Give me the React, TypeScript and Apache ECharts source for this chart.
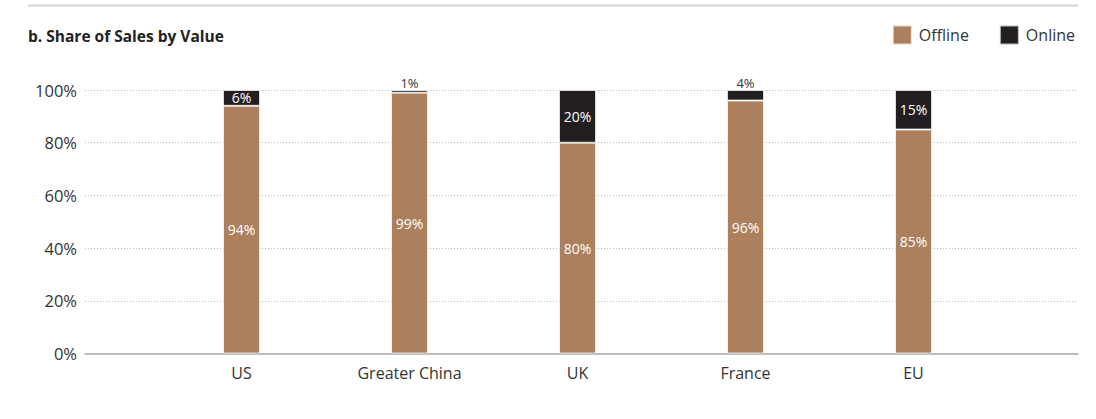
import React, { useEffect, useRef } from "react";
import * as echarts from "echarts";

const categories = ["US", "Greater China", "UK", "France", "EU"];
const offline = [94, 99, 80, 96, 85];
const online = [6, 1, 20, 4, 15];
const yTicks = [0, 20, 40, 60, 80, 100];

const FONT = "'Open Sans', 'Noto Sans', sans-serif";
const OFFLINE_COLOR = "#AD805D";
const ONLINE_COLOR = "#231F20";

export default function App() {
  const ref = useRef<HTMLDivElement>(null);
  useEffect(() => {
    const chart = echarts.init(ref.current!, undefined, { renderer: "svg" });
    const top = 90;
    const height = 263.5;
    chart.setOption({
      animation: false,
      textStyle: { fontFamily: FONT },
      graphic: [
        {
          type: "line",
          shape: { x1: 28, y1: 5.5, x2: 1078, y2: 5.5 },
          style: { stroke: "#d4d4d4", lineWidth: 2 },
        },
        {
          type: "text",
          left: 28,
          top: 27.5,
          style: {
            text: "b. Share of Sales by Value",
            font: `bold 15.5px ${FONT}`,
            fill: "#222",
          },
        },
      ],
      legend: {
        right: 21,
        top: 24.5,
        padding: 0,
        icon: "rect",
        itemWidth: 19,
        itemHeight: 19,
        itemGap: 30,
        textStyle: { fontSize: 16, color: "#333", fontFamily: FONT, padding: [0, 0, 0, 2] },
        data: ["Offline", "Online"],
      },
      grid: [
        { left: 85, top, width: 993, height },
        { left: 157.5, top, width: 840, height },
      ],
      xAxis: [
        {
          gridIndex: 0,
          type: "value",
          min: 0,
          max: 1,
          axisLine: { show: true, onZero: false, lineStyle: { color: "#aaa", width: 1.5 } },
          axisTick: { show: false },
          axisLabel: { show: false },
          splitLine: { show: false },
        },
        {
          gridIndex: 1,
          type: "category",
          data: categories,
          axisLine: { show: false },
          axisTick: { show: false },
          axisLabel: { color: "#333", fontSize: 16, fontFamily: FONT, margin: 11 },
        },
      ],
      yAxis: [
        {
          gridIndex: 0,
          type: "value",
          min: yTicks[0],
          max: yTicks[yTicks.length - 1],
          interval: 20,
          axisLine: { show: false },
          axisTick: { show: false },
          axisLabel: { formatter: "{value}%", color: "#333", fontSize: 16.5, fontFamily: FONT, margin: 8 },
          splitLine: { show: true, lineStyle: { color: "#bbb", type: [1, 2], width: 1 } },
        },
        {
          gridIndex: 1,
          type: "value",
          min: 0,
          max: 100,
          show: false,
          splitLine: { show: false },
        },
      ],
      series: [
        {
          name: "Offline",
          type: "bar",
          xAxisIndex: 1,
          yAxisIndex: 1,
          stack: "s",
          barWidth: 37,
          data: offline,
          itemStyle: { color: OFFLINE_COLOR, borderColor: "rgba(255,255,255,0.7)", borderWidth: 1 },
          label: {
            show: true,
            position: "inside",
            formatter: "{c}%",
            color: "#fff",
            fontSize: 14,
            fontFamily: FONT,
          },
        },
        {
          name: "Online",
          type: "bar",
          xAxisIndex: 1,
          yAxisIndex: 1,
          stack: "s",
          barWidth: 37,
          itemStyle: { color: ONLINE_COLOR, borderColor: "rgba(255,255,255,0.7)", borderWidth: 1 },
          data: online.map((v) =>
            v < 5
              ? {
                  value: v,
                  label: { show: true, position: "top", color: "#333", distance: 1, fontSize: 13 },
                }
              : { value: v }
          ),
          label: {
            show: true,
            position: "inside",
            formatter: "{c}%",
            color: "#fff",
            fontSize: 14,
            fontFamily: FONT,
          },
        },
      ],
    });
    return () => chart.dispose();
  }, []);
  return (
    <div
      ref={ref}
      style={{ position: "fixed", left: 0, top: 0, width: 1096, height: 419, background: "#fff" }}
    />
  );
}
